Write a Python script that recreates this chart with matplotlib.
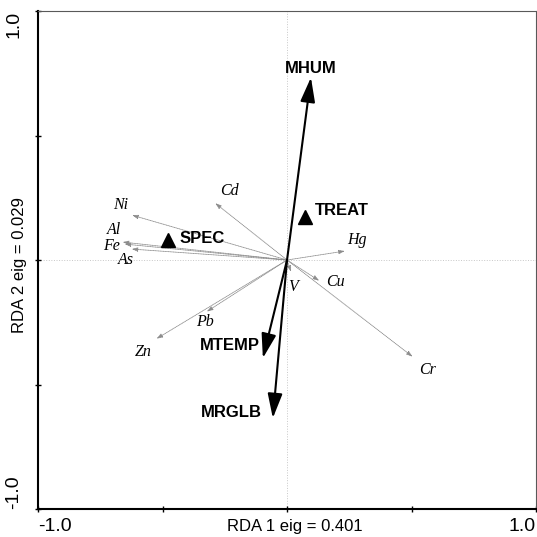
import matplotlib
matplotlib.use("Agg")
import matplotlib.pyplot as plt

# переменные среды (стрелки) и номинальные факторы (треугольники)
env_names = ["MHUM", "MTEMP", "MRGLB"]
env_x = [0.096, -0.097, -0.057]
env_y = [0.733, -0.394, -0.635]

fac_names = ["TREAT", "SPEC"]
fac_x = [0.072, -0.476]
fac_y = [0.172, 0.080]

# элементы (отклики)
sp_names = ["Ni", "Cd", "Al", "Fe", "As", "Hg", "Cu", "V", "Pb", "Zn", "Cr"]
sp_x = [-0.622, -0.288, -0.660, -0.652, -0.624, 0.232, 0.129, 0.016, -0.322, -0.524, 0.504]
sp_y = [0.180, 0.228, 0.072, 0.064, 0.044, 0.036, -0.083, -0.047, -0.207, -0.316, -0.388]

x_label = "RDA 1 eig = 0.401"
y_label = "RDA 2 eig = 0.029"

# сдвиги подписей, в пикселях
env_off = {"MHUM": (0, 9, "center"), "MTEMP": (-3, 13, "right"), "MRGLB": (-11, 6, "right")}
fac_off = {"TREAT": (10, 7), "SPEC": (11, 2)}
sp_off = {"Ni": (-11, 10), "Cd": (14, 12), "Al": (-9, 12), "Fe": (-13, -2), "As": (-6, -11),
          "Hg": (12, 11), "Cu": (16, -1), "V": (2, -15), "Pb": (-2, -10), "Zn": (-13, -13),
          "Cr": (15, -13)}

sans = "Liberation Sans"
serif = "Liberation Serif"

fig = plt.figure(figsize=(5.37, 5.37), dpi=100)
ax = fig.add_axes([0.0708, 0.0521, 0.9274, 0.9274])
ax.set_xlim(-1, 1)
ax.set_ylim(-1, 1)

ax.axhline(0, color="0.78", lw=0.7, ls=":", zorder=0)
ax.axvline(0, color="0.78", lw=0.7, ls=":", zorder=0)

# стрелки элементов
for name, x, y in zip(sp_names, sp_x, sp_y):
    ax.annotate("", xy=(x, y), xytext=(0, 0),
                arrowprops=dict(arrowstyle="-|>,head_length=0.35,head_width=0.12",
                                mutation_scale=10, color="0.55", lw=0.6, ls=(0, (1, 1)),
                                shrinkA=0, shrinkB=0))
    dx, dy = sp_off[name]
    ax.annotate(name, xy=(x, y), xytext=(dx, dy), textcoords="offset pixels",
                ha="center", va="center", fontsize=11.5, style="italic", family=serif)

# стрелки переменных среды
for name, x, y in zip(env_names, env_x, env_y):
    ax.annotate("", xy=(x, y), xytext=(0, 0),
                arrowprops=dict(arrowstyle="-|>,head_length=1.5,head_width=0.45",
                                mutation_scale=10, color="black", lw=1.5,
                                shrinkA=0, shrinkB=0))
    dx, dy, ha = env_off[name]
    ax.annotate(name, xy=(x, y), xytext=(dx, dy), textcoords="offset pixels",
                ha=ha, va="center", fontsize=12, weight="bold", family=sans)

ax.plot(fac_x, fac_y, "^", color="black", ms=10, zorder=5)
for name, x, y in zip(fac_names, fac_x, fac_y):
    dx, dy = fac_off[name]
    ax.annotate(name, xy=(x, y), xytext=(dx, dy), textcoords="offset pixels",
                ha="left", va="center", fontsize=12, weight="bold", family=sans)

# оси
for s in ["left", "bottom"]:
    ax.spines[s].set_linewidth(1.5)
    ax.spines[s].set_color("black")
for s in ["top", "right"]:
    ax.spines[s].set_linewidth(0.8)
    ax.spines[s].set_color("0.35")

ticks = [-1, -0.5, 0, 0.5, 1]
ax.set_xticks(ticks)
ax.set_yticks(ticks)
ax.set_xticklabels(["-1.0", "", "", "", "1.0"], family=sans, fontsize=14)
ax.set_yticklabels(["-1.0", "", "", "", "1.0"], family=sans, fontsize=14, rotation=90)
ax.tick_params(direction="inout", length=5, width=1)
ax.tick_params(axis="x", pad=4)
ax.tick_params(axis="y", pad=9)
xl = ax.get_xticklabels()
xl[0].set_ha("left")
xl[-1].set_ha("right")
yl = ax.get_yticklabels()
for t in yl:
    t.set_ha("right")
yl[0].set_va("bottom")
yl[-1].set_va("top")

ax.set_xlabel(x_label, family=sans, fontsize=12, va="center")
ax.xaxis.set_label_coords(0.515, -0.036)
ax.set_ylabel(y_label, family=sans, fontsize=12, va="center")
ax.yaxis.set_label_coords(-0.038, 0.49)

fig.savefig("out.png", dpi=100)
